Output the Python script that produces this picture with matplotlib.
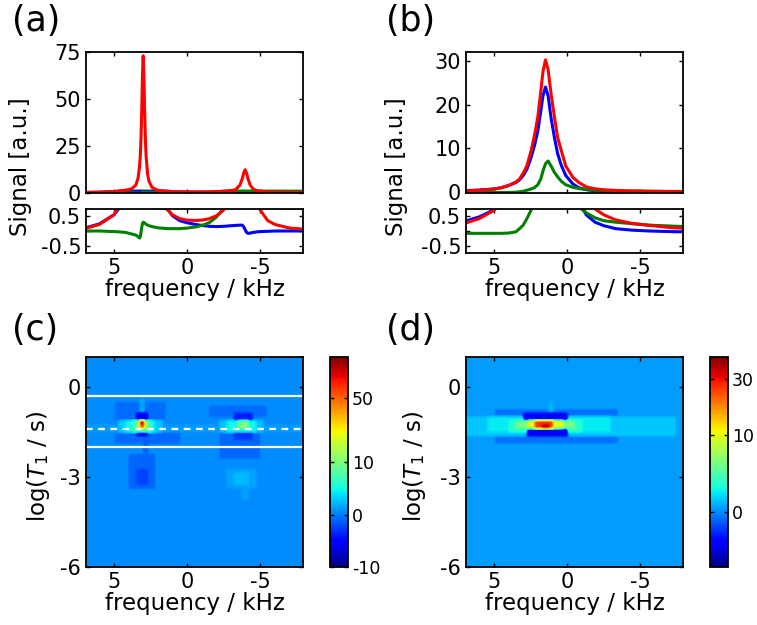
import numpy as np
import matplotlib
matplotlib.use("Agg")
import matplotlib.pyplot as plt
from matplotlib.colors import FuncNorm

plt.rcParams["font.family"] = ["DejaVu Sans"]
plt.rcParams["axes.unicode_minus"] = False
plt.rcParams["mathtext.fontset"] = "dejavusans"

# ---- (a) spectra, frequency in kHz ----
freq_a = [7.0, 6.0, 5.0, 4.6, 4.2, 3.8, 3.5, 3.35, 3.25, 3.2, 3.15, 3.1, 3.05, 3.0,
          2.95, 2.9, 2.85, 2.8, 2.7, 2.6, 2.4, 2.0, 1.35, 1.0, 0.5, 0.0, -0.6, -1.0,
          -1.5, -2.0, -2.5, -3.0, -3.3, -3.6, -3.75, -3.85, -3.95, -4.05, -4.15,
          -4.3, -4.5, -4.75, -5.0, -5.5, -6.0, -7.0, -8.0]
red_a = [0.08, 0.22, 0.55, 0.9, 1.3, 2.0, 4.0, 7.7, 13.7, 19.3, 28.5, 43, 62, 73,
         62, 43, 28.5, 19.3, 10, 6.0, 2.8, 1.2, 0.73, 0.55, 0.42, 0.37, 0.36, 0.37,
         0.42, 0.52, 0.72, 1.1, 1.6, 4.0, 7.3, 10.3, 12.2, 10.3, 7.3,
         4.0, 2.0, 1.0, 0.7, 0.35, 0.22, 0.1, 0.06]
blue_a = [0.1, 0.24, 0.55, 0.8, 0.82, 0.82, 0.8, 0.8, 0.8, 0.8, 0.8, 0.8, 0.8, 0.8,
          0.8, 0.8, 0.8, 0.8, 0.8, 0.8, 0.8, 0.8, 0.75, 0.52, 0.35, 0.28, 0.22, 0.19,
          0.16, 0.15, 0.16, 0.18, 0.19, 0.2, 0.2, 0.15, 0.05, -0.05, -0.08,
          -0.07, -0.05, -0.03, -0.02, -0.01, 0.0, 0.0, 0.0]
green_a = [0.0, 0.0, -0.02, -0.03, -0.05, -0.1, -0.14, -0.19, -0.24, -0.2, -0.05, 0.12, 0.25, 0.3,
           0.29, 0.27, 0.25, 0.23, 0.2, 0.18, 0.15, 0.11, 0.08, 0.08, 0.08, 0.1, 0.14, 0.19,
           0.28, 0.48, 0.78, 0.85, 0.85, 0.85, 0.85, 0.85, 0.85, 0.85, 0.85,
           0.85, 0.85, 0.83, 0.82, 0.8, 0.8, 0.78, 0.77]

# ---- (b) spectra ----
freq_b = [7.0, 6.0, 5.0, 4.5, 4.0, 3.5, 3.25, 3.0, 2.75, 2.45, 2.2, 2.0, 1.8, 1.65,
          1.48, 1.3, 1.1, 0.87, 0.65, 0.41, 0.1, -0.38, -0.8, -1.3, -1.9, -2.5,
          -3.3, -4.4, -5.6, -7.0, -8.0]
red_b = [0.26, 0.42, 0.7, 1.0, 1.5, 2.3, 3.0, 4.3, 6.0, 9.6, 13.5, 17.2, 23, 27.5,
         30.2, 28, 22.5, 17.2, 12.5, 9.6, 6.0, 3.4, 2.2, 1.2, 0.75, 0.55,
         0.38, 0.26, 0.19, 0.12, 0.09]
blue_b = [0.33, 0.48, 0.72, 1.0, 1.5, 2.2, 2.8, 3.8, 5.2, 8.0, 11, 14, 18.5, 22,
          24, 22, 17, 12.5, 8.8, 6.2, 3.8, 1.9, 1.0, 0.55, 0.3, 0.18,
          0.08, 0.03, 0.0, -0.02, -0.03]
green_b = [-0.08, -0.08, -0.08, -0.08, -0.07, -0.03, 0.08, 0.2, 0.42, 0.72, 1.1, 1.7, 3.0, 4.8,
           6.5, 7.1, 6.0, 4.5, 3.5, 2.5, 1.7, 1.1, 0.82, 0.62, 0.45, 0.35,
           0.3, 0.25, 0.2, 0.17, 0.15]

# ---- (c),(d) T1-frequency maps: background plus patches
# (freq_hi, freq_lo, logT1_hi, logT1_lo, value), painted in order
map_bg = 0.03
boxes_c = [
    (6.9, -7.9, -1.2, -1.55, 0.15),
    (5.0, 1.5, -0.5, -1.1, -0.04),
    (-1.5, -5.5, -0.6, -1.0, -0.04),
    (5.0, 0.5, -1.55, -1.9, -0.06),
    (-2.3, -5.0, -1.55, -2.4, -0.08),
    (4.0, 2.2, -2.3, -3.4, -0.1),
    (3.4, 2.7, -2.8, -3.2, -0.6),
    (3.0, 2.7, -1.65, -2.3, -0.15),
    (3.2, 2.9, -0.4, -1.0, 0.3),
    (-2.8, -4.8, -2.7, -3.4, 0.25),
    (-3.3, -4.3, -2.85, -3.25, 0.6),
    (-3.7, -4.1, -3.4, -3.75, 0.2),
    # left peak
    (4.6, 1.8, -1.1, -1.55, 1.0),
    (4.2, 2.2, -1.15, -1.5, 2.5),
    (3.7, 2.5, -1.17, -1.45, 6.0),
    (3.5, 2.6, -0.9, -1.15, -3.5),
    (3.5, 2.6, -1.45, -1.65, -2.5),
    (3.4, 2.7, -1.17, -1.42, 15.0),
    (3.2, 2.9, -1.2, -1.35, 60.0),
    (3.2, 2.95, -1.15, -1.25, 80.0),
    # right peak
    (-2.3, -5.3, -1.1, -1.55, 0.8),
    (-2.8, -4.8, -1.15, -1.5, 2.5),
    (-3.4, -4.3, -1.17, -1.42, 9.0),
    (-3.6, -4.0, -1.25, -1.35, 14.0),
    (-3.2, -4.5, -0.85, -1.15, -1.5),
    (-3.2, -4.5, -1.45, -1.8, -0.8),
]
boxes_d = [
    (6.9, -7.3, -1.0, -1.62, 0.3),
    (5.5, -3.0, -1.05, -1.55, 0.7),
    (4.0, -1.0, -1.1, -1.5, 1.5),
    (5.0, -3.5, -0.75, -1.0, -0.04),
    (5.0, -3.5, -1.62, -1.85, -0.04),
    (1.3, 1.0, -0.5, -0.9, 0.15),
    (3.4, -0.5, -1.12, -1.42, 4.0),
    (2.9, 0.1, -0.9, -1.13, -1.6),
    (2.7, 0.1, -1.4, -1.6, -1.8),
    (2.7, 0.34, -1.12, -1.42, 10.0),
    (2.16, 0.9, -1.17, -1.36, 26.0),
    (1.75, 1.3, -1.25, -1.35, 37.0),
]
lines_c_solid = [-0.3, -2.0]
lines_c_dash = [-1.4]

cbar_c_range = (-10, 91)
cbar_c_ticks = [-10, 0, 10, 50]
cbar_d_range = (-5, 40.5)
cbar_d_ticks = [0, 10, 30]

f_lim = (6.9, -7.9)
t_lim = (-6, 1)
n_f, n_t = 60, 56

W, H = 757, 625
fig = plt.figure(figsize=(W / 100, H / 100), dpi=100)

def rect(l, t, r, b):
    return [l / W, 1 - b / H, (r - l) / W, (b - t) / H]

def style(ax):
    ax.tick_params(direction="in", top=True, right=True, length=3, width=1, labelsize=15)
    for s in ax.spines.values():
        s.set_linewidth(1.3)

def spectra(x0, f, r, b, g, ytop, yticks):
    ax1 = fig.add_axes(rect(x0, 52, x0 + 217, 193))
    ax2 = fig.add_axes(rect(x0, 209, x0 + 217, 253))
    for ax in (ax1, ax2):
        ax.plot(f, b, color="b", lw=2.2)
        ax.plot(f, g, color=(0, 0.5, 0), lw=2.2)
        ax.plot(f, r, color="r", lw=2.2)
        ax.set_xlim(*f_lim)
        ax.set_xticks([5, 0, -5])
        style(ax)
    ax1.set_ylim(-0.2, ytop)
    ax1.set_yticks(yticks)
    ax1.set_xticklabels([])
    ax2.set_ylim(-0.75, 0.75)
    ax2.set_yticks([-0.5, 0, 0.5])
    ax2.set_yticklabels(["-0.5", "", "0.5"])
    ax2.set_xticklabels(["5", "0", "-5"])
    ax2.set_xlabel("frequency / kHz", fontsize=16.5, labelpad=0)
    return ax1, ax2

def t1map(x0, boxes, crange, cticks, cx):
    edges_f = np.linspace(f_lim[0], f_lim[1], n_f + 1)
    edges_t = np.linspace(t_lim[1], t_lim[0], n_t + 1)
    fc = (edges_f[:-1] + edges_f[1:]) / 2
    tc = (edges_t[:-1] + edges_t[1:]) / 2
    grid = np.full((n_t, n_f), map_bg)
    for fh, fl, th, tl, v in boxes:
        fm = (fc <= fh) & (fc >= fl)
        tm = (tc <= th) & (tc >= tl)
        grid[np.ix_(tm, fm)] = v
    fwd = lambda v: np.sign(v) * np.sqrt(np.abs(v))
    inv = lambda v: np.sign(v) * v ** 2
    norm = FuncNorm((fwd, inv), vmin=crange[0], vmax=crange[1])
    ax = fig.add_axes(rect(x0, 357, x0 + 217, 567))
    im = ax.imshow(grid, extent=[f_lim[0], f_lim[1], t_lim[0], t_lim[1]], origin="upper",
                   aspect="auto", cmap="jet", norm=norm, interpolation="bilinear",
                   interpolation_stage="data")
    ax.set_xlim(*f_lim)
    ax.set_ylim(*t_lim)
    ax.set_xticks([5, 0, -5])
    ax.set_xticklabels(["5", "0", "-5"])
    ax.set_yticks([0, -3, -6])
    ax.set_yticklabels(["0", "-3", "-6"])
    ax.set_xlabel("frequency / kHz", fontsize=16.5, labelpad=0)
    style(ax)
    cax = fig.add_axes(rect(cx, 357, cx + 18, 567))
    cb = fig.colorbar(im, cax=cax)
    cb.set_ticks(cticks)
    cb.set_ticklabels([str(t) for t in cticks])
    cb.ax.tick_params(direction="in", left=True, right=True, length=3, width=1,
                      labelsize=12.5, pad=3)
    cb.outline.set_linewidth(1.3)
    return ax

ax_a1, ax_a2 = spectra(86, freq_a, red_a, blue_a, green_a, 75, [0, 25, 50, 75])
ax_b1, ax_b2 = spectra(466, freq_b, red_b, blue_b, green_b, 32, [0, 10, 20, 30])

ax_c = t1map(86, boxes_c, cbar_c_range, cbar_c_ticks, 330)
ax_d = t1map(466, boxes_d, cbar_d_range, cbar_d_ticks, 710)

for y in lines_c_solid:
    ax_c.axhline(y, color="w", lw=1.6)
for y in lines_c_dash:
    ax_c.axhline(y, color="w", lw=1.6, dashes=(3, 2.5))

# shared y labels
fig.text(21 / W, 1 - 167 / H, "Signal [a.u.]", rotation=90, ha="center", va="center", fontsize=16.5)
fig.text(396 / W, 1 - 167 / H, "Signal [a.u.]", rotation=90, ha="center", va="center", fontsize=16.5)
fig.text(38 / W, 1 - 466 / H, r"log($T_1$ / s)", rotation=90, ha="center", va="center", fontsize=16.5)
fig.text(415 / W, 1 - 466 / H, r"log($T_1$ / s)", rotation=90, ha="center", va="center", fontsize=16.5)

for lbl, x, y in [("(a)", 12, 4), ("(b)", 386, 4), ("(c)", 12, 313), ("(d)", 386, 313)]:
    fig.text(x / W, 1 - y / H, lbl, ha="left", va="top", fontsize=25)

fig.savefig("out.png", dpi=100)
